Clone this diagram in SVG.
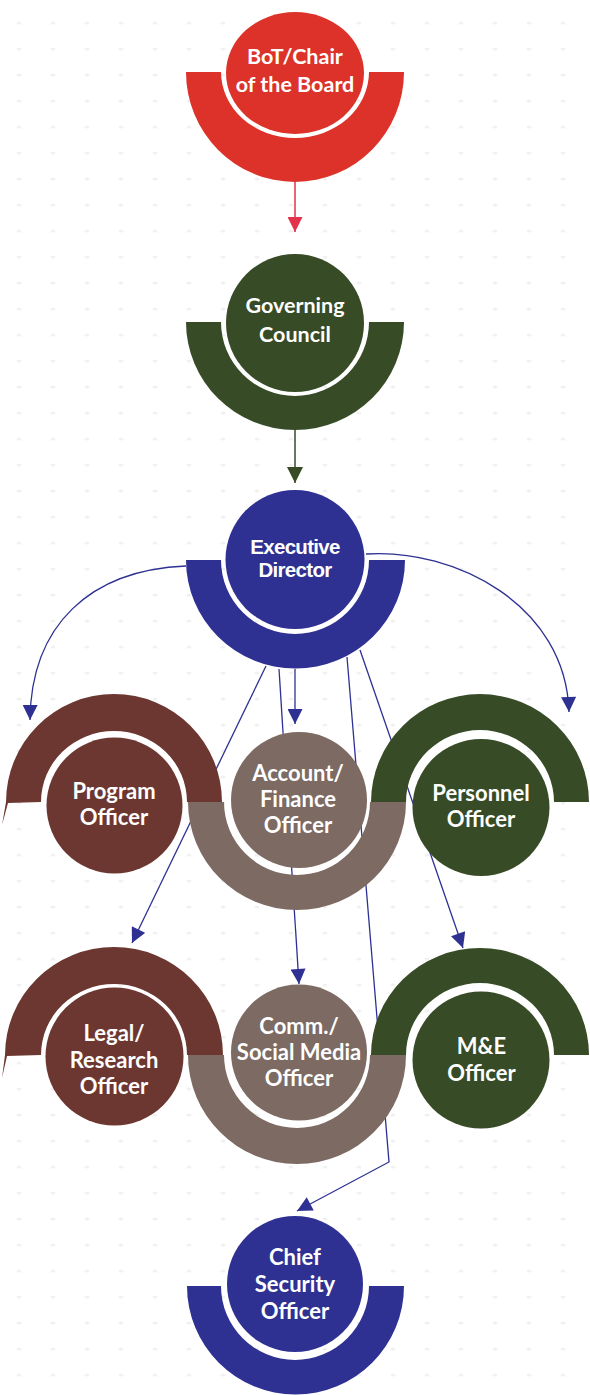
<svg xmlns="http://www.w3.org/2000/svg" width="590" height="1395" viewBox="0 0 590 1395">
<style>
.red{fill:#dc3229}.grn{fill:#374b26}.blu{fill:#2e3192}.brn{fill:#6c3730}.tau{fill:#7d6a63}
.t1{font-family:Lato,"Open Sans",sans-serif;font-weight:700;font-size:21.5px;fill:#fff;text-anchor:middle}
.t2{font-family:"Liberation Sans",Arial,sans-serif;font-weight:700;font-size:20.5px;letter-spacing:-0.7px;fill:#fff;text-anchor:middle}
.t3{font-family:Lato,"Open Sans",sans-serif;font-weight:700;font-size:22px;fill:#fff;text-anchor:middle}
.cn{fill:none;stroke:#2e3192;stroke-width:1.3}
</style>
<defs>
<pattern id="dots" width="34" height="26" patternUnits="userSpaceOnUse" x="2" y="10">
<ellipse cx="17" cy="13" rx="2.5" ry="1.6" fill="#f1f1f1"/>
</pattern>
<marker id="ab" viewBox="0 0 16 16" refX="16" refY="8" markerWidth="16" markerHeight="15" markerUnits="userSpaceOnUse" orient="auto"><path d="M0,0 L16,8 L0,16 Z" fill="#2e3192"/></marker>
<marker id="ar" viewBox="0 0 16 16" refX="16" refY="8" markerWidth="15" markerHeight="15" markerUnits="userSpaceOnUse" orient="auto"><path d="M0,0 L16,8 L0,16 Z" fill="#e2334b"/></marker>
<marker id="ag" viewBox="0 0 16 16" refX="16" refY="8" markerWidth="16" markerHeight="16" markerUnits="userSpaceOnUse" orient="auto"><path d="M0,0 L16,8 L0,16 Z" fill="#374b26"/></marker>
</defs>
<rect width="590" height="1395" fill="#fff"/>
<rect width="590" height="1395" fill="url(#dots)"/>

<g id="connectors">
<line x1="295" y1="182" x2="295" y2="232" stroke="#e2334b" stroke-width="1.5" marker-end="url(#ar)"/>
<line x1="295" y1="430" x2="295" y2="483" stroke="#374b26" stroke-width="1.5" marker-end="url(#ag)"/>
<path class="cn" d="M186,566 C90,570 31,625 30,720" marker-end="url(#ab)"/>
<path class="cn" d="M366,554 C455,548 566,605 569,712" marker-end="url(#ab)"/>
<line class="cn" x1="295" y1="669" x2="295" y2="724" marker-end="url(#ab)"/>
<line class="cn" x1="266" y1="666" x2="132" y2="943" marker-end="url(#ab)"/>
<line class="cn" x1="279" y1="669" x2="299" y2="984" marker-end="url(#ab)"/>
<line class="cn" x1="360" y1="650" x2="463" y2="948" marker-end="url(#ab)"/>
<polyline class="cn" points="347,657 389,1162 297,1211" marker-end="url(#ab)"/>
</g>

<g id="bot">
<path class="red" d="M186,72 A109,110 0 0 0 404,72 L369,72 A74,66 0 0 1 221,72 Z"/>
<ellipse class="red" cx="295" cy="73" rx="69" ry="61"/>
<text class="t1" x="295" y="64">BoT/Chair</text>
<text class="t1" x="295" y="92">of the Board</text>
</g>

<g id="governing-council">
<path class="grn" d="M186,322 A109,108 0 0 0 404,322 L369,322 A74,74 0 0 1 221,322 Z"/>
<circle class="grn" cx="295" cy="323" r="69"/>
<text class="t1" x="295" y="313">Governing</text>
<text class="t1" x="295" y="342">Council</text>
</g>

<g id="executive-director">
<path class="blu" d="M186,560 A109,108 0 0 0 405,560 L369,560 A74,74 0 0 1 221,560 Z"/>
<circle class="blu" cx="295" cy="559.5" r="69.5"/>
<text class="t2" x="295" y="554">Executive</text>
<text class="t2" x="295" y="577">Director</text>
</g>

<g id="program-officer">
<path class="brn" d="M2,825 L6,802 A108,108 0 0 1 222,802 L187,802 A73,71 0 0 0 41,802 L8,803 Z"/>
<circle class="brn" cx="114.5" cy="805.5" r="68"/>
<text class="t3" x="114" y="799">Program</text>
<text class="t3" x="114" y="825">Officer</text>
</g>

<g id="account-finance-officer">
<path class="tau" d="M188,802 A109,108 0 0 0 406,802 L370,802 A73,73 0 0 1 224,802 Z"/>
<circle class="tau" cx="299" cy="800" r="68"/>
<text class="t3" x="298" y="781">Account/</text>
<text class="t3" x="298" y="807">Finance</text>
<text class="t3" x="298" y="833">Officer</text>
</g>

<g id="personnel-officer">
<path class="grn" d="M371,802 A109,108 0 0 1 589,802 L554,802 A74,72 0 0 0 406,802 Z"/>
<circle class="grn" cx="481" cy="807.5" r="68.5"/>
<text class="t3" x="481" y="801">Personnel</text>
<text class="t3" x="481" y="827">Officer</text>
</g>

<g id="legal-research-officer">
<path class="brn" d="M2,1078 L5,1055 A108,107 0 0 1 223,1055 L187,1055 A73,71 0 0 0 41,1055 L7,1056 Z"/>
<circle class="brn" cx="114.5" cy="1056.5" r="69"/>
<text class="t3" x="114" y="1041">Legal/</text>
<text class="t3" x="114" y="1068">Research</text>
<text class="t3" x="114" y="1094">Officer</text>
</g>

<g id="comm-social-media-officer">
<path class="tau" d="M188,1055 A109,109 0 0 0 406,1055 L370,1055 A73,73 0 0 1 224,1055 Z"/>
<circle class="tau" cx="299" cy="1052.5" r="68"/>
<text class="t3" x="299" y="1034">Comm./</text>
<text class="t3" x="299" y="1059.5">Social Media</text>
<text class="t3" x="299" y="1086">Officer</text>
</g>

<g id="me-officer">
<path class="grn" d="M371,1055 A109,107 0 0 1 589,1055 L554,1055 A74,72 0 0 0 406,1055 Z"/>
<circle class="grn" cx="481" cy="1060" r="68.5"/>
<text class="t3" x="481.5" y="1053.5">M&amp;E</text>
<text class="t3" x="481.5" y="1081">Officer</text>
</g>

<g id="chief-security-officer">
<path class="blu" d="M187,1286 A108,108 0 0 0 404,1286 L369,1286 A74,74 0 0 1 221,1286 Z"/>
<circle class="blu" cx="295" cy="1284" r="68"/>
<text class="t3" x="295" y="1264.5">Chief</text>
<text class="t3" x="295" y="1292">Security</text>
<text class="t3" x="295" y="1319">Officer</text>
</g>
</svg>
